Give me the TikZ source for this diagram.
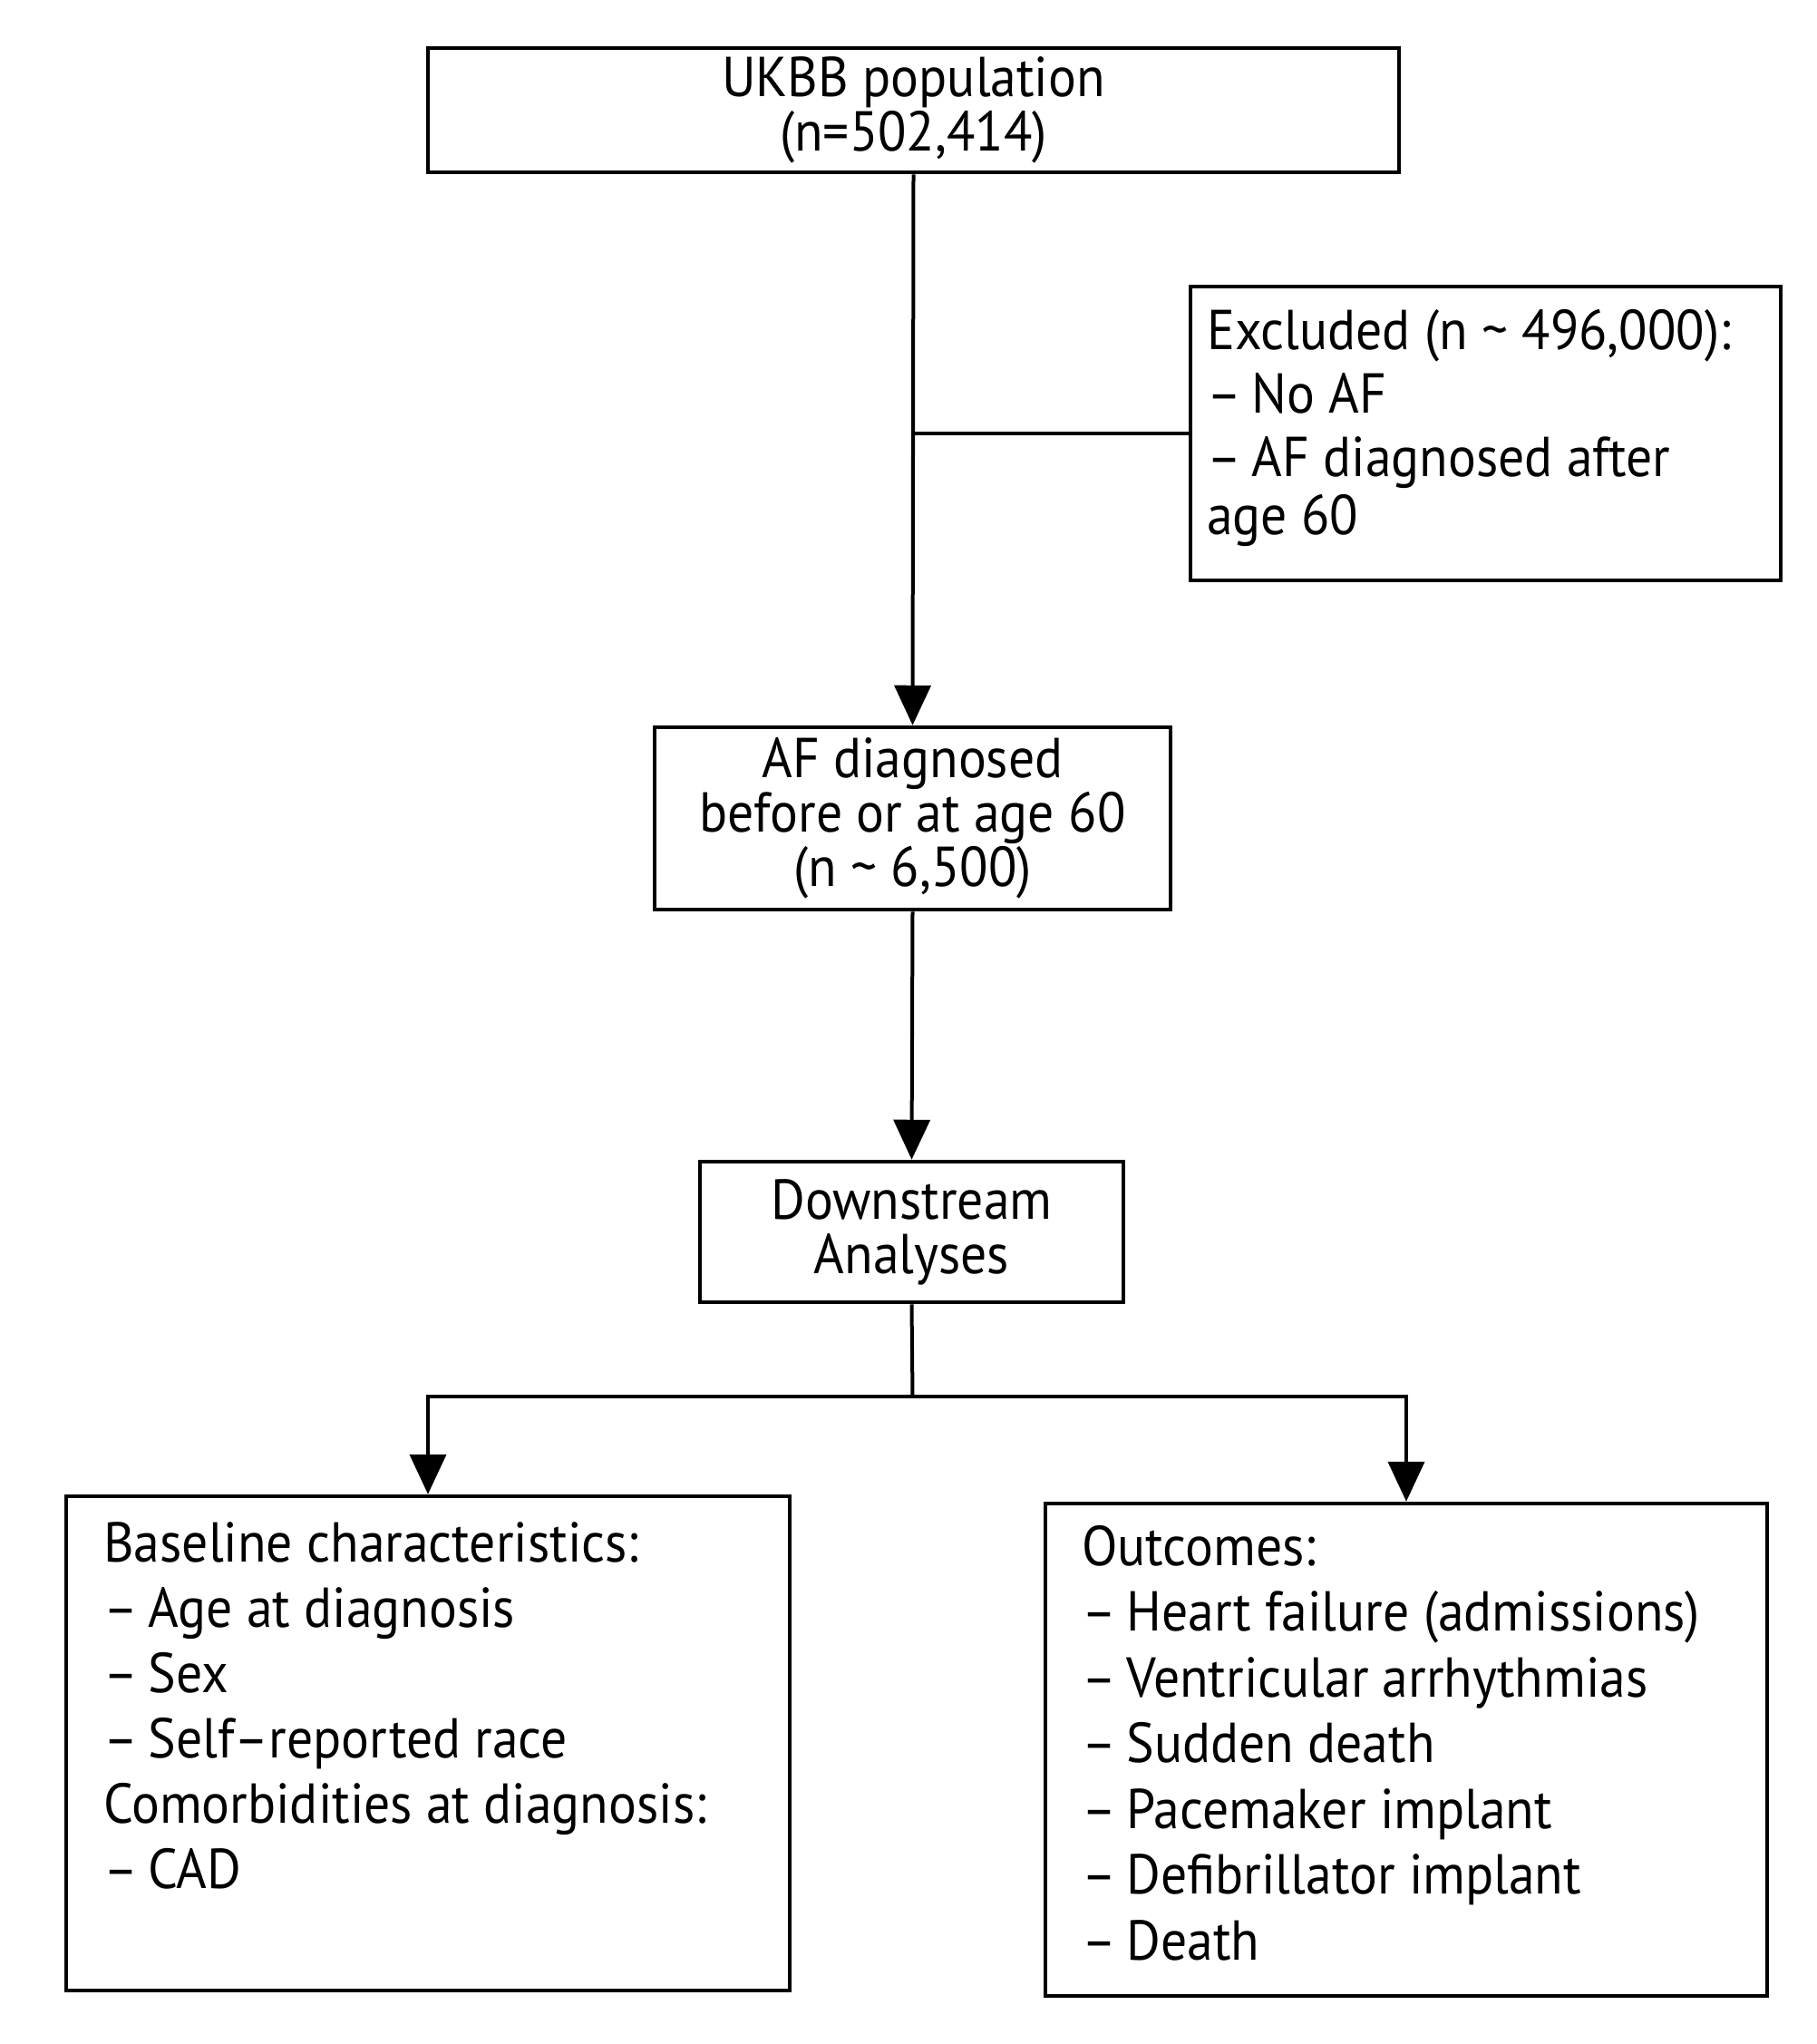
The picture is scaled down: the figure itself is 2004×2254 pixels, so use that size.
\documentclass[tikz,border=0pt]{standalone}
\usepackage{fontspec}
\setmainfont{PT Sans}[FakeStretch=0.93]
\usetikzlibrary{arrows.meta}
\begin{document}
\begin{tikzpicture}[x=1pt,y=-1pt,
  box/.style={draw,line width=4.5pt,inner sep=0pt,align=center,font=\fontsize{62}{60}\selectfont},
  conn/.style={line width=4pt},
  arr/.style={conn,-{Triangle[length=44pt,width=40pt]}},
  txt/.style={inner sep=0pt,anchor=north west,align=left,font=\fontsize{62}{72}\selectfont}]
\useasboundingbox (0,0) rectangle (2004,2254);
\fill[white] (0,0) rectangle (2004,2254);
\node[box,minimum width=1071pt,minimum height=137pt] (top) at (1007.5,121.5) {UKBB population\\(n=502,414)};
\node[box,minimum width=651pt,minimum height=324pt] (excl) at (1638.5,478) {};
\node[box,minimum width=569pt,minimum height=201pt] (af) at (1006.5,902.5) {AF diagnosed\\before or at age 60\\(n \textasciitilde\ 6,500)};
\node[box,minimum width=467pt,minimum height=155pt] (down) at (1005.5,1358.5) {Downstream\\Analyses};
\node[box,minimum width=798pt,minimum height=545pt] (left) at (472,1922.5) {};
\node[box,minimum width=796pt,minimum height=543pt] (right) at (1551,1929.5) {};
\node[txt,font=\fontsize{62}{70}\selectfont] (excltxt) at (1331,341) {Excluded (n \textasciitilde\ 496,000):\\\textendash\kern-4pt\ No AF\\\textendash\kern-4pt\ AF diagnosed after\\[-6pt]age 60};
\node[txt] (lefttxt) at (114,1678) {Baseline characteristics:\\\textendash\kern-4pt\ Age at diagnosis\\\textendash\kern-4pt\ Sex\\\textendash\kern-4pt\ Self\textendash reported race\\Comorbidities at diagnosis:\\\textendash\kern-4pt\ CAD};
\node[txt,font=\fontsize{62}{72.5}\selectfont] (righttxt) at (1193,1682) {Outcomes:\\\textendash\kern-4pt\ Heart failure (admissions)\\\textendash\kern-4pt\ Ventricular arrhythmias\\\textendash\kern-4pt\ Sudden death\\\textendash\kern-4pt\ Pacemaker implant\\\textendash\kern-4pt\ Defibrillator implant\\\textendash\kern-4pt\ Death};
\coordinate (split) at (1006.5,1540);
\draw[arr] (top.south) -- (af.north);
\draw[conn] (top.south |- excl.west) -- (excl.west);
\draw[arr] (af.south) -- (down.north);
\draw[conn] (down.south) -- (split);
\draw[arr] (split) -| (left.north);
\draw[arr] (split) -| (right.north);
\end{tikzpicture}
\end{document}
